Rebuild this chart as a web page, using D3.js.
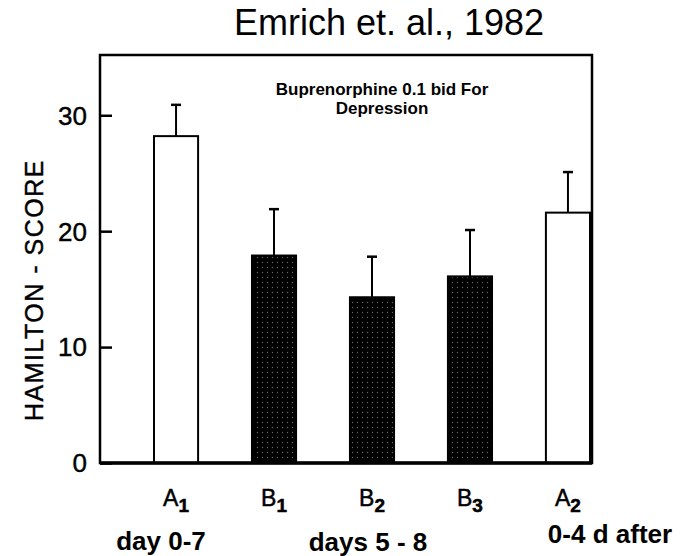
<!DOCTYPE html>
<html>
<head>
<meta charset="utf-8">
<script src="https://cdn.jsdelivr.net/npm/d3@7"></script>
<style>
  body { margin: 0; background: white; }
  text { font-family: "Liberation Sans", Arial, sans-serif; }
</style>
</head>
<body>
<div id="chart"></div>
<script>
// data
var groups = ["A", "B", "B", "B", "A"];
var subs = ["1", "1", "2", "3", "2"];
var ids = ["A1", "B1", "B2", "B3", "A2"];
var means = [28.2, 17.9, 14.3, 16.1, 21.6];
var upper = [30.9, 21.9, 17.8, 20.1, 25.1];
var yTicks = [0, 10, 20, 30];
var periods = ["day 0-7", "days 5 - 8", "0-4 d after"];

var w = 682, h = 556;
var box = {left: 100, right: 592, top: 55, bottom: 463};

var svg = d3.select("#chart")
  .append("svg")
  .attr("width", w)
  .attr("height", h)
  .style("background-color", "white");

// dotted black fill for the B bars
var pat = svg.append("defs").append("pattern")
  .attr("id", "dots")
  .attr("patternUnits", "userSpaceOnUse")
  .attr("width", 5).attr("height", 5);
pat.append("rect").attr("width", 5).attr("height", 5).attr("fill", "#000");
pat.append("circle").attr("cx", 2.5).attr("cy", 2.5).attr("r", 0.7).attr("fill", "#666");

var x = d3.scaleBand()
  .domain(ids)
  .range([154, 590])
  .paddingInner(0.55)
  .paddingOuter(0);

var y = d3.scaleLinear()
  .domain([0, 35.2])
  .range([box.bottom, box.top]);

// title
svg.append("text")
  .attr("x", 389).attr("y", 35)
  .attr("text-anchor", "middle")
  .style("font-size", "36px")
  .text("Emrich et. al., 1982");

// inner subtitle
svg.append("text")
  .attr("x", 382).attr("y", 95)
  .attr("text-anchor", "middle")
  .style("font-size", "17px").style("font-weight", "bold")
  .text("Buprenorphine 0.1 bid For");
svg.append("text")
  .attr("x", 382).attr("y", 114)
  .attr("text-anchor", "middle")
  .style("font-size", "17px").style("font-weight", "bold")
  .text("Depression");

// bars
svg.append("g")
  .selectAll("rect")
  .data(ids)
  .enter()
  .append("rect")
  .attr("x", function (d) { return x(d); })
  .attr("y", function (d, i) { return y(means[i]); })
  .attr("width", x.bandwidth())
  .attr("height", function (d, i) { return y(0) - y(means[i]); })
  .attr("fill", function (d, i) { return groups[i] === "B" ? "url(#dots)" : "white"; })
  .attr("stroke", "#000")
  .attr("stroke-width", 2);

// error bars
var eb = svg.append("g").attr("stroke", "#000").attr("stroke-width", 2);
eb.selectAll("line.v")
  .data(ids)
  .enter()
  .append("line")
  .attr("class", "v")
  .attr("x1", function (d) { return x(d) + x.bandwidth() / 2; })
  .attr("x2", function (d) { return x(d) + x.bandwidth() / 2; })
  .attr("y1", function (d, i) { return y(means[i]); })
  .attr("y2", function (d, i) { return y(upper[i]); });
eb.selectAll("line.cap")
  .data(ids)
  .enter()
  .append("line")
  .attr("class", "cap")
  .attr("x1", function (d) { return x(d) + x.bandwidth() / 2 - 5; })
  .attr("x2", function (d) { return x(d) + x.bandwidth() / 2 + 5; })
  .attr("y1", function (d, i) { return y(upper[i]); })
  .attr("y2", function (d, i) { return y(upper[i]); })
  .attr("stroke-width", 2.5);

// frame
svg.append("rect")
  .attr("x", box.left).attr("y", box.top)
  .attr("width", box.right - box.left)
  .attr("height", box.bottom - box.top)
  .attr("fill", "none")
  .attr("stroke", "#000")
  .attr("stroke-width", 2.5);
svg.append("line")
  .attr("x1", box.left).attr("x2", box.right)
  .attr("y1", box.bottom).attr("y2", box.bottom)
  .attr("stroke", "#000").attr("stroke-width", 3.5);

// y axis, ticks pointing inward
var yAxis = svg.append("g")
  .attr("transform", "translate(" + box.left + ",0)")
  .call(d3.axisRight(y).tickValues(yTicks).tickSize(12).tickFormat(""));
yAxis.select(".domain").remove();
yAxis.selectAll(".tick line").attr("stroke-width", 2.5);

svg.append("g")
  .selectAll("text")
  .data(yTicks)
  .enter()
  .append("text")
  .attr("x", 87)
  .attr("y", function (d) { return y(d); })
  .attr("dy", "0.36em")
  .attr("text-anchor", "end")
  .style("font-size", "26px")
  .attr("stroke", "#000").attr("stroke-width", 0.4)
  .text(function (d) { return d; });

// y label
svg.append("text")
  .attr("transform", "translate(43,290) rotate(-90)")
  .attr("text-anchor", "middle")
  .style("font-size", "25px")
  .style("letter-spacing", "1.5px")
  .attr("stroke", "#000").attr("stroke-width", 0.4)
  .text("HAMILTON - SCORE");

// category labels with subscripts
var cat = svg.append("g")
  .selectAll("text")
  .data(ids)
  .enter()
  .append("text")
  .attr("x", function (d) { return x(d) + x.bandwidth() / 2; })
  .attr("y", 506)
  .attr("text-anchor", "middle")
  .style("font-size", "23px")
  .attr("stroke", "#000").attr("stroke-width", 0.5);
cat.append("tspan").text(function (d, i) { return groups[i]; });
cat.append("tspan")
  .attr("dy", 6)
  .style("font-size", "19px")
  .style("font-weight", "bold")
  .text(function (d, i) { return subs[i]; });

// period labels
var px = [161, 368, 610];
var py = [550, 551, 543];
svg.append("g")
  .selectAll("text")
  .data(periods)
  .enter()
  .append("text")
  .attr("x", function (d, i) { return px[i]; })
  .attr("y", function (d, i) { return py[i]; })
  .attr("text-anchor", "middle")
  .style("font-size", "26px")
  .style("font-weight", "bold")
  .text(function (d) { return d; });
</script>
</body>
</html>
